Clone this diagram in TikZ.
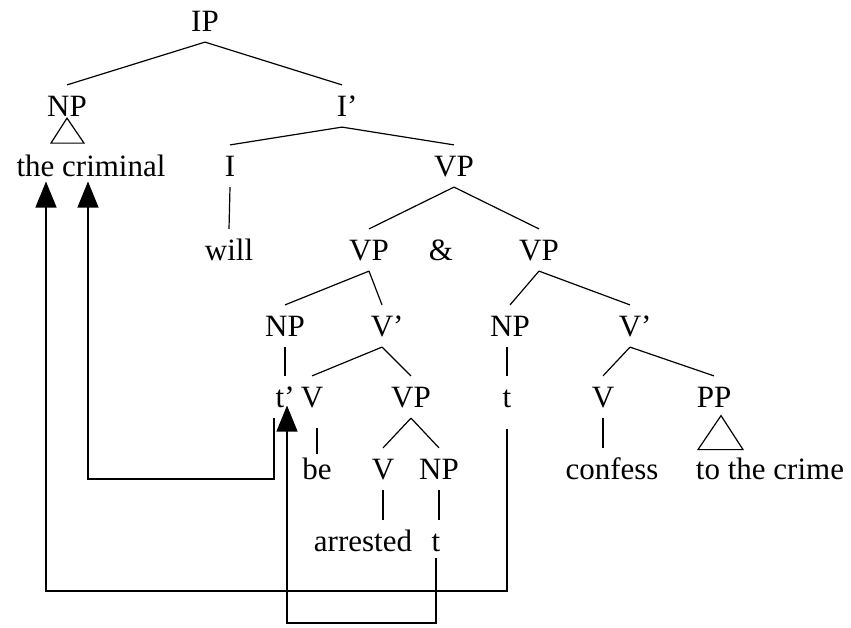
\documentclass[tikz,border=0pt]{standalone}
\usepackage{fontspec}
\setmainfont{Liberation Serif}
\usepackage{tikz}
\usetikzlibrary{arrows.meta,calc}

\begin{document}
\begin{tikzpicture}[x=1pt,y=-1pt,
  every node/.style={font=\fontsize{31}{31}\selectfont,inner xsep=0pt,
    inner ysep=10pt,text height=21pt,text depth=0pt},
  every path/.style={line width=1.2pt},
  mv/.style={-{Triangle[length=26pt,width=21pt]}}]
  \useasboundingbox (0,0) rectangle (851,627);
  \node (ip) at (205,21) {IP};
  \node (np) at (67,106) {NP};
  \node (ib) at (342,106) {I\rlap{’}};
  \node (crim) at (91,166) {the criminal};
  \node (i) at (230,166) {I};
  \node (vp) at (454,166) {VP};
  \node (will) at (229,250) {will};
  \node (vpa) at (369,250) {VP};
  \node (and) at (441,250) {\&};
  \node (vpb) at (539,250) {VP};
  \node (npa) at (285,326) {NP};
  \node (vba) at (382,326) {V\rlap{’}};
  \node (npb) at (510,326) {NP};
  \node (vbb) at (630,326) {V\rlap{’}};
  \node (ta) at (280,397) {t\rlap{’}};
  \node (va) at (312,397) {V};
  \node (vpc) at (411,397) {VP};
  \node (tb) at (507,397) {t};
  \node (vb) at (603,397) {V};
  \node (pp) at (714,397) {PP};
  \node (be) at (317,469) {be};
  \node (vc) at (383,469) {V};
  \node (npc) at (439,469) {NP};
  \node (conf) at (612,469) {confess};
  \node (crime) at (770,469) {to the crime};
  \node (arr) at (363,541) {arrested};
  \node (tc) at (436,541) {t};

  \draw (ip.south) -- (np.north) (ip.south) -- (ib.north);
  \draw (ib.south) -- (i.north) (ib.south) -- (vp.north);
  \draw (vp.south) -- (vpa.north) (vp.south) -- (vpb.north);
  \draw (i.south) -- (will.north);
  \draw (vpa.south) -- (npa.north) (vpa.south) -- (vba.north);
  \draw (vpb.south) -- (npb.north) (vpb.south) -- (vbb.north);
  \draw (npa.south) -- (npa.south |- ta.north);
  \draw (tb.north |- npb.south) -- (tb.north);
  \draw (vba.south) -- (va.north) (vba.south) -- (vpc.north);
  \draw (vbb.south) -- (vb.north) (vbb.south) -- (pp.north);
  \draw ([yshift=-10pt]be.north |- va.south) -- ([yshift=-6pt]be.north);
  \draw (vb.south) -- (vb.south |- conf.north);
  \draw (vpc.south) -- (vc.north) (vpc.south) -- (npc.north);
  \draw (vc.south) -- (vc.south |- arr.north);
  \draw (npc.south) -- (npc.south |- tc.north);
  \draw (np.south) ++(0,-9) -- ++(-16,25) -- ++(33,0) -- cycle;
  \draw (pp.south) ++(7,-2.5) -- ++(-23,34) -- ++(45,0) -- cycle;

  \coordinate (b1) at (46,591);
  \coordinate (b2) at (88,479);
  \coordinate (b3) at (287,623);
  \draw[mv] ([yshift=-11pt]tb.south) |- (b1) -- ($(b1 |- crim.base)+(0,5)$);
  \draw[mv] ([xshift=-6pt]ta.south) |- (b2) -- ($(b2 |- crim.base)+(0,5)$);
  \draw[mv] ([yshift=4pt]tc.south) |- (b3) -- ($(b3 |- ta.base)+(0,-2)$);
\end{tikzpicture}
\end{document}
